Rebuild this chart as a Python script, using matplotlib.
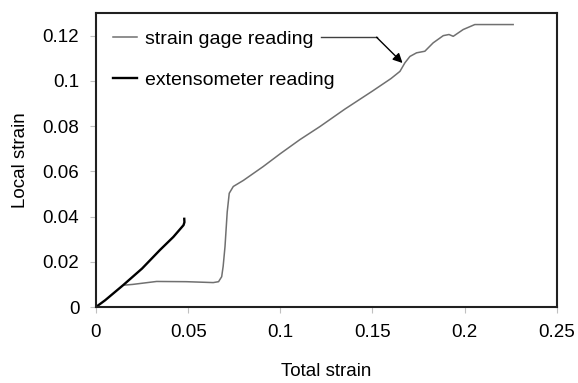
import numpy as np
import matplotlib.pyplot as plt

plt.rcParams['font.family'] = ['Liberation Sans', 'DejaVu Sans']

# strain gage reading (total strain, local strain)
gage_x = [0.0157, 0.0200, 0.0329, 0.0490, 0.0600, 0.0636, 0.0665, 0.0682,
          0.0690, 0.0700, 0.0712, 0.0723, 0.0745, 0.0800, 0.0907, 0.1000,
          0.1106, 0.1215, 0.1350, 0.1500, 0.1600, 0.1649, 0.1676, 0.1703,
          0.1739, 0.1784, 0.1829, 0.1884, 0.1915, 0.1938, 0.1992, 0.2055,
          0.2263]
gage_y = [0.0097, 0.0100, 0.0113, 0.0112, 0.0109, 0.0108, 0.0112, 0.0134,
          0.0180, 0.0267, 0.0420, 0.0503, 0.0533, 0.0560, 0.0621, 0.0678,
          0.0740, 0.0798, 0.0875, 0.0955, 0.1010, 0.1042, 0.1080, 0.1108,
          0.1124, 0.1131, 0.1168, 0.1200, 0.1205, 0.1197, 0.1227, 0.1249,
          0.1249]

# extensometer reading
ext_x = [0.0, 0.0050, 0.0148, 0.0250, 0.0347, 0.0420, 0.0475, 0.0480, 0.0479]
ext_y = [0.0, 0.0030, 0.0097, 0.0170, 0.0252, 0.0310, 0.0362, 0.0375, 0.0390]

fig = plt.figure(figsize=(5.78, 3.83), dpi=100)
ax = fig.add_axes([0.166, 0.1984, 0.7974, 0.7676])

ax.plot(gage_x, gage_y, color='#707070', lw=1.1, label='strain gage reading')
ax.plot(ext_x, ext_y, color='black', lw=1.7, label='extensometer reading')

# leader line + arrow from the legend entry to the curve
ax.plot([0.1223, 0.1522], [0.1193, 0.1193], color='#404040', lw=1.0)
ax.annotate('', xy=(0.1663, 0.1079), xytext=(0.1522, 0.1193),
            arrowprops=dict(arrowstyle='-|>', color='black', lw=1.0,
                            mutation_scale=14, shrinkA=0, shrinkB=0))

ax.set_xlim(0, 0.25)
ax.set_ylim(0, 0.13)
ax.set_xticks([0, 0.05, 0.1, 0.15, 0.2, 0.25])
ax.set_xticklabels(['0', '0.05', '0.1', '0.15', '0.2', '0.25'])
ax.set_yticks([0, 0.02, 0.04, 0.06, 0.08, 0.1, 0.12])
ax.set_yticklabels(['0', '0.02', '0.04', '0.06', '0.08', '0.1', '0.12'])
ax.tick_params(length=4, width=0.8, color='#c0c0c0', labelsize=13.5, pad=8)

for s in ax.spines.values():
    s.set_linewidth(1.5)
    s.set_color('#202020')

ax.set_xlabel('Total strain', fontsize=13.5, labelpad=16)
ax.set_ylabel('Local strain', fontsize=13.5, labelpad=10)

ax.legend(loc='upper left', bbox_to_anchor=(0.037, 0.941), frameon=False,
          fontsize=14, handlelength=1.24, handletextpad=0.41,
          labelspacing=1.2, borderpad=0, borderaxespad=0)

plt.savefig('out.png', dpi=100)
